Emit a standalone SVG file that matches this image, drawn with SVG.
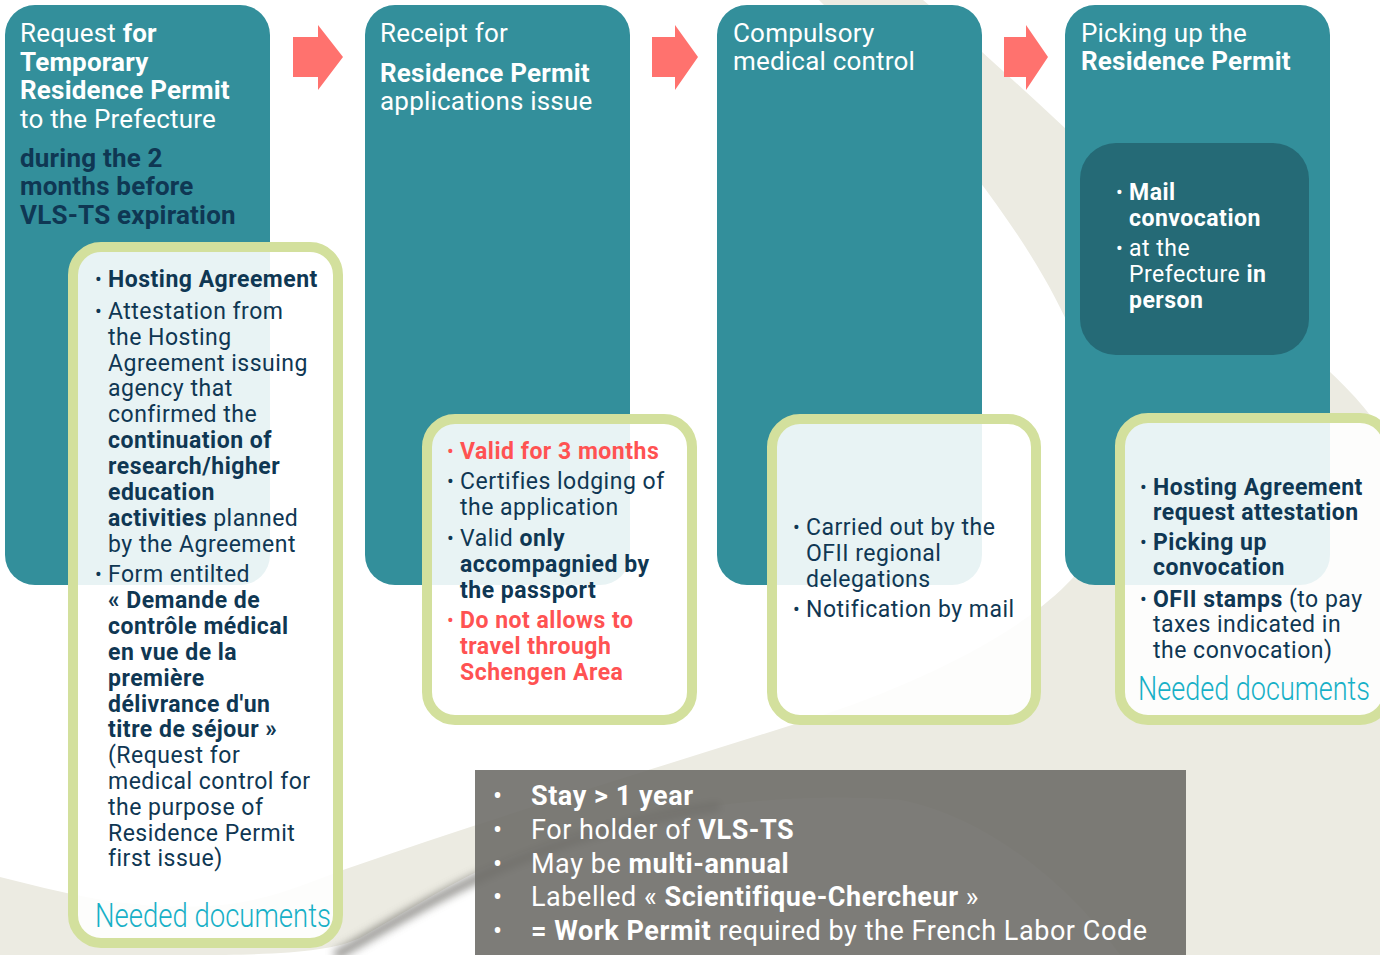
<svg xmlns="http://www.w3.org/2000/svg" width="1380" height="955" viewBox="0 0 1380 955">
<defs>
<style>
text{font-family:Roboto,"Liberation Sans",sans-serif;}
.t{font-size:26px;letter-spacing:0.2px;fill:#ffffff;}
.b{font-weight:700;}
.nv{fill:#0f3753;}
.s{font-size:23px;letter-spacing:0.5px;}
.rd{fill:#ff5252;}
.wh{fill:#ffffff;}
.bul{font-size:20px;}
.teal{fill:#338f9b;}
.gbox{fill:#ffffff;fill-opacity:0.89;stroke:#d3e09d;stroke-width:10;}
.need{font-size:33px;font-weight:300;fill:#17b0c7;}
.arrow{fill:#ff726e;}
.g{font-size:27px;letter-spacing:0.55px;fill:#ffffff;}
</style>
<filter id="blur" x="-10%" y="-50%" width="120%" height="200%"><feGaussianBlur stdDeviation="4"/></filter>
</defs>
<rect x="0" y="0" width="1380" height="955" fill="#ffffff"/>
<g id="background">
<path d="M 819 0 L 923 0 C 1040 100 1180 240 1300 345 C 1335 375 1360 400 1380 428 L 1380 955 L 0 955 L 0 877 C 70 895 140 912 220 905 C 270 900 305 884 343 870 C 500 815 650 770 792 725 C 920 685 1060 620 1100 540 C 1120 490 1100 420 1075 340 C 1030 230 920 100 819 0 Z" fill="#ecebe2"/>
<path d="M 190 955 C 280 955 330 952 360 938 C 400 915 440 890 480 870 C 600 815 760 790 900 800 C 1000 820 1080 900 1120 955 Z" fill="#ffffff"/>
<path d="M 335 956 C 380 930 430 900 482 876 C 560 840 640 818 720 806" fill="none" stroke="#6f6e69" stroke-width="10" opacity="0.7" filter="url(#blur)"/>
</g>
<g id="step1"><rect class="teal" x="5" y="5" width="265" height="580" rx="30"/>
<text class="t" x="20" y="42">Request <tspan class="b">for</tspan></text>
<text class="t b" x="20" y="71">Temporary</text>
<text class="t b" x="20" y="99">Residence Permit</text>
<text class="t" x="20" y="128">to the Prefecture</text>
<text class="t b nv" x="20" y="167">during the 2</text>
<text class="t b nv" x="20" y="195">months before</text>
<text class="t b nv" x="20" y="224">VLS-TS expiration</text>
</g>
<g id="step2"><rect class="teal" x="365" y="5" width="265" height="580" rx="30"/>
<text class="t" x="380" y="42">Receipt for</text>
<text class="t b" x="380" y="82">Residence Permit</text>
<text class="t" x="380" y="110">applications issue</text>
</g>
<g id="step3"><rect class="teal" x="717" y="5" width="265" height="580" rx="30"/>
<text class="t" x="733" y="42">Compulsory</text>
<text class="t" x="733" y="70">medical control</text>
</g>
<g id="step4"><rect class="teal" x="1065" y="5" width="265" height="580" rx="30"/>
<text class="t" x="1081" y="42">Picking up the</text>
<text class="t b" x="1081" y="70">Residence Permit</text>
</g>
<g id="connectors">
<polygon class="arrow" points="293,37 318,37 318,25 343,57 318,90 318,77 293,77"/>
<polygon class="arrow" points="652,37 675,37 675,25 698,57 675,90 675,77 652,77"/>
<polygon class="arrow" points="1004,37 1026,37 1026,25 1048,57 1026,90 1026,77 1004,77"/>
</g>
<g id="pickup-details"><rect x="1080" y="143" width="229" height="212" rx="36" fill="#256a76"/>
<text class="bul wh" x="1116" y="199">•</text><text class="s wh b" x="1129" y="200">Mail</text>
<text class="s wh b" x="1129" y="226">convocation</text>
<text class="bul wh" x="1116" y="255">•</text><text class="s wh" x="1129" y="256">at the</text>
<text class="s wh" x="1129" y="282">Prefecture <tspan class="b">in</tspan></text>
<text class="s wh b" x="1129" y="308">person</text>
</g>
<g id="docs1"><rect class="gbox" x="73" y="247" width="265" height="696" rx="28"/>
<text class="bul nv" x="95" y="286">•</text><text class="s nv b" x="108" y="287">Hosting Agreement</text>
<text class="bul nv" x="95" y="318">•</text><text class="s nv" x="108" y="319">Attestation from</text>
<text class="s nv" x="108" y="345">the Hosting</text>
<text class="s nv" x="108" y="371">Agreement issuing</text>
<text class="s nv" x="108" y="396">agency that</text>
<text class="s nv" x="108" y="422">confirmed the</text>
<text class="s nv b" x="108" y="448">continuation of</text>
<text class="s nv b" x="108" y="474">research/higher</text>
<text class="s nv b" x="108" y="500">education</text>
<text class="s nv" x="108" y="526"><tspan class="b">activities</tspan> planned</text>
<text class="s nv" x="108" y="552">by the Agreement</text>
<text class="bul nv" x="95" y="581">•</text><text class="s nv" x="108" y="582">Form entilted</text>
<text class="s nv b" x="108" y="608">« Demande de</text>
<text class="s nv b" x="108" y="634">contrôle médical</text>
<text class="s nv b" x="108" y="660">en vue de la</text>
<text class="s nv b" x="108" y="686">première</text>
<text class="s nv b" x="108" y="712">délivrance d'un</text>
<text class="s nv b" x="108" y="737">titre de séjour »</text>
<text class="s nv" x="108" y="763">(Request for</text>
<text class="s nv" x="108" y="789">medical control for</text>
<text class="s nv" x="108" y="815">the purpose of</text>
<text class="s nv" x="108" y="841">Residence Permit</text>
<text class="s nv" x="108" y="866">first issue)</text>
<text class="need" x="95" y="927" textLength="236" lengthAdjust="spacingAndGlyphs">Needed documents</text>
</g>
<g id="receipt-notes"><rect class="gbox" x="427" y="419" width="265" height="301" rx="28"/>
<text class="bul rd" x="447" y="458">•</text><text class="s rd b" x="460" y="459">Valid for 3 months</text>
<text class="bul nv" x="447" y="488">•</text><text class="s nv" x="460" y="489">Certifies lodging of</text>
<text class="s nv" x="460" y="515">the application</text>
<text class="bul nv" x="447" y="545">•</text><text class="s nv" x="460" y="546">Valid <tspan class="b">only</tspan></text>
<text class="s nv b" x="460" y="572">accompagnied by</text>
<text class="s nv b" x="460" y="598">the passport</text>
<text class="bul rd" x="447" y="627">•</text><text class="s rd b" x="460" y="628">Do not allows to</text>
<text class="s rd b" x="460" y="654">travel through</text>
<text class="s rd b" x="460" y="680">Schengen Area</text>
</g>
<g id="medical-notes"><rect class="gbox" x="772" y="419" width="264" height="301" rx="28"/>
<text class="bul nv" x="793" y="534">•</text><text class="s nv" x="806" y="535">Carried out by the</text>
<text class="s nv" x="806" y="561">OFII regional</text>
<text class="s nv" x="806" y="587">delegations</text>
<text class="bul nv" x="793" y="616">•</text><text class="s nv" x="806" y="617">Notification by mail</text>
</g>
<g id="docs4"><rect class="gbox" x="1120" y="418" width="268" height="302" rx="28"/>
<text class="bul nv" x="1140" y="494">•</text><text class="s nv b" x="1153" y="495">Hosting Agreement</text>
<text class="s nv b" x="1153" y="520">request attestation</text>
<text class="bul nv" x="1140" y="549">•</text><text class="s nv b" x="1153" y="550">Picking up</text>
<text class="s nv b" x="1153" y="575">convocation</text>
<text class="bul nv" x="1140" y="606">•</text><text class="s nv" x="1153" y="607"><tspan class="b">OFII stamps</tspan> (to pay</text>
<text class="s nv" x="1153" y="632">taxes indicated in</text>
<text class="s nv" x="1153" y="658">the convocation)</text>
<text class="need" x="1138" y="700" textLength="232" lengthAdjust="spacingAndGlyphs">Needed documents</text>
</g>
<g id="summary"><rect x="475" y="770" width="711" height="185" fill="#6f6e69" fill-opacity="0.9"/>
<text class="g" x="493" y="805">•</text><text class="g b" x="531" y="805">Stay &gt; 1 year</text>
<text class="g" x="493" y="839">•</text><text class="g" x="531" y="839">For holder of <tspan class="b">VLS-TS</tspan></text>
<text class="g" x="493" y="873">•</text><text class="g" x="531" y="873">May be <tspan class="b">multi-annual</tspan></text>
<text class="g" x="493" y="906">•</text><text class="g" x="531" y="906">Labelled « <tspan class="b">Scientifique-Chercheur</tspan> »</text>
<text class="g" x="493" y="940">•</text><text class="g" x="531" y="940"><tspan class="b">= Work Permit</tspan> required by the French Labor Code</text>
</g>
</svg>
